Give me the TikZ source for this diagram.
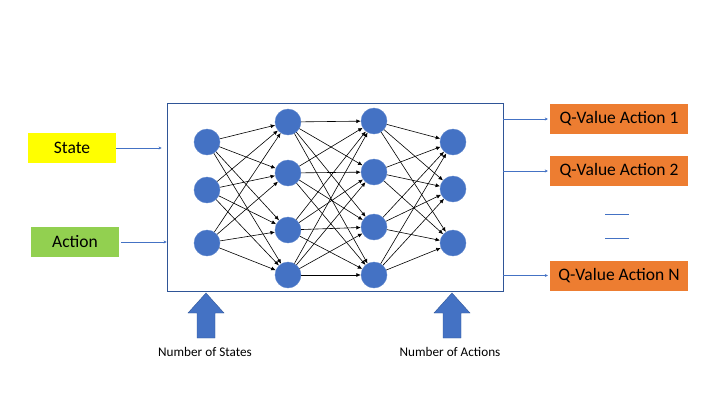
\documentclass[tikz,border=0pt]{standalone}
\usepackage{fontspec}
\setmainfont{Carlito}
\usetikzlibrary{arrows.meta,shapes,positioning}
\usepackage{xcolor}
\definecolor{neuronblue}{RGB}{68,114,196}
\definecolor{framecol}{RGB}{47,85,151}
\definecolor{stateyellow}{RGB}{255,255,0}
\definecolor{actiongreen}{RGB}{146,208,80}
\definecolor{qorange}{RGB}{237,125,49}

\begin{document}
\begin{tikzpicture}[x=1pt,y=-1pt,
    neuron/.style={circle,fill=neuronblue,draw=neuronblue!85!white,minimum size=26pt,inner sep=0pt},
    wire/.style={-{Latex[length=4.5pt,width=4pt]},black,line width=0.6pt},
    inbox/.style={minimum width=88pt,minimum height=30pt,inner sep=0pt,font=\fontsize{17.5}{17.5}\selectfont},
    qbox/.style={fill=qorange,minimum width=138pt,minimum height=30pt,inner sep=0pt,font=\fontsize{17.5}{17.5}\selectfont},
    feed/.style={-{Stealth[length=3pt,width=3pt]},neuronblue,line width=0.6pt},
    caption/.style={font=\fontsize{13.2}{13.2}\selectfont}]

    \useasboundingbox (0,0) rectangle (720,405);

    % network frame
    \node[draw=framecol,line width=0.8pt,minimum width=336pt,minimum height=188pt,inner sep=0pt] (net) at (335,197) {};

    % layers
    \foreach \y [count=\i] in {142,190,243} \node[neuron] (a\i) at (207,\y) {};
    \foreach \y [count=\i] in {122,173,230,275} \node[neuron] (b\i) at (288,\y) {};
    \foreach \y [count=\i] in {121,172,227,275} \node[neuron] (c\i) at (374,\y) {};
    \foreach \y [count=\i] in {142,189,243} \node[neuron] (d\i) at (453,\y) {};

    % weights
    \foreach \i in {1,2,3} \foreach \j in {1,...,4} \draw[wire] (a\i) -- (b\j);
    \foreach \i in {1,...,4} \foreach \j in {1,...,4} \draw[wire] (b\i) -- (c\j);
    \foreach \i in {1,...,4} \foreach \j in {1,2,3} \draw[wire] (c\i) -- (d\j);

    % inputs
    \node[inbox,fill=stateyellow] (state) at (72,148) {State};
    \node[inbox,fill=actiongreen] (action) at (75,242) {Action};
    \draw[feed,shorten >=5pt] (state.east) -- (state.east -| net.west);
    \draw[feed,shorten <=2pt] (action.east) -- (action.east -| net.west);

    % outputs
    \node[qbox] (q1) at (619,119) {Q-Value Action 1};
    \node[qbox] (q2) at (619,171) {Q-Value Action 2};
    \node[qbox] (qn) at (619,275.5) {Q-Value Action N};
    \foreach \q in {q1,q2,qn} \draw[feed,shorten >=2pt] (\q.west -| net.east) -- (\q.west);
    \draw[neuronblue,line width=0.6pt] (605,214) -- (629,214);
    \draw[neuronblue,line width=0.6pt] (605,238) -- (629,238);

    % sizes
    \foreach \cx in {206,452}
        \filldraw[fill=neuronblue,draw=framecol,line width=0.4pt] (\cx-9,338) -- (\cx-9,313) -- (\cx-18,313) -- (\cx,293) -- (\cx+18,313) -- (\cx+9,313) -- (\cx+9,338) -- cycle;
    \node[caption] (nstates) at (205,352) {Number of States};
    \node[caption] (nactions) at (450,352) {Number of Actions};
\end{tikzpicture}
\end{document}
